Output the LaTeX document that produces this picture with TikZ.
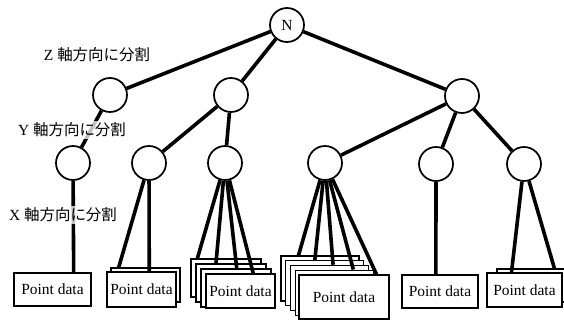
\documentclass[tikz,border=0pt]{standalone}
\usepackage{fontspec}
\setmainfont{Liberation Serif}
\newfontfamily\jpfont{Noto Sans CJK JP}
\usepackage{tikz}
\usetikzlibrary{calc}

\tikzset{
  kdnode/.style={circle,draw,fill=white,line width=1.3pt,minimum size=25.5pt,inner sep=0pt,font=\fontsize{11.6}{13}\selectfont},
  kdedge/.style={line width=2.7pt},
  databox/.style={draw,fill=white,line width=1.1pt,inner sep=0pt,font=\fontsize{11.6}{13}\selectfont},
  axislabel/.style={fill=white,fill opacity=0.75,text opacity=1,inner sep=1pt,font=\fontsize{11.6}{13}\selectfont}
}

\begin{document}
\begin{tikzpicture}[x=0.75pt,y=0.75pt,yscale=-1,xscale=1]
\useasboundingbox (0,0) rectangle (564,320);

%Shape: Rectangle (leaf boxes)
\node [databox,minimum width=57.75pt,minimum height=24.75pt] (b1) at (52.5,289.5) {Point data};
%
\node [databox,minimum width=51.75pt,minimum height=25.5pt] (b2a) at (145.5,285) {};
\node [databox,minimum width=51.75pt,minimum height=26.25pt] (b2b) at (141.5,289.5) {Point data};
%
\node [databox,minimum width=52.5pt,minimum height=28.5pt] (b3a) at (226,278) {};
\node [databox,minimum width=52.5pt,minimum height=28.5pt] (b3b) at (231,283) {};
\node [databox,minimum width=52.5pt,minimum height=28.5pt] (b3c) at (236,288) {};
\node [databox,minimum width=51.75pt,minimum height=25.5pt] (b3d) at (240.5,291) {Point data};
%
\node [databox,minimum width=58.5pt,minimum height=33.75pt] (b4a) at (320,278.5) {};
\node [databox,minimum width=58.5pt,minimum height=33.75pt] (b4b) at (324.75,283.25) {};
\node [databox,minimum width=58.5pt,minimum height=33.75pt] (b4c) at (329.5,288) {};
\node [databox,minimum width=58.5pt,minimum height=33.75pt] (b4d) at (334.25,292.75) {};
\node [databox,minimum width=67.5pt,minimum height=33pt] (b4e) at (344,297) {Point data};
%
\node [databox,minimum width=57pt,minimum height=24.75pt] (b5) at (440,291.5) {Point data};
%
\node [databox,minimum width=56.25pt,minimum height=24.75pt] (b6a) at (534.5,285.5) {};
\node [databox,minimum width=56.25pt,minimum height=25.5pt] (b6b) at (524.5,290) {Point data};

%Shape: Circle (tree nodes)
\node [kdnode] (root) at (287,25) {N};
\node [kdnode] (z1) at (110,95) {};
\node [kdnode] (z2) at (231,95) {};
\node [kdnode] (z3) at (462,96) {};
\node [kdnode] (y1) at (73,163) {};
\node [kdnode] (y2) at (149,163) {};
\node [kdnode] (y3) at (225,163) {};
\node [kdnode] (y4) at (325,163) {};
\node [kdnode] (y5) at (436,164) {};
\node [kdnode] (y6) at (524,164) {};

%Straight Lines
\draw [kdedge] (root) -- (z1) ;
\draw [kdedge] (root) -- (z2) ;
\draw [kdedge] (root) -- (z3) ;
\draw [kdedge] (z1) -- (y1) ;
\draw [kdedge] (z2) -- (y2) ;
\draw [kdedge] (z2) -- (y3) ;
\draw [kdedge] (z3) -- (y4) ;
\draw [kdedge] (z3) -- (y5) ;
\draw [kdedge] (z3) -- (y6) ;
%Straight Lines (to leaves)
\draw [kdedge] (y1) -- ($(b1.north west)!0.77!(b1.north east)$) ;
\draw [kdedge] (y2) -- ($(b2a.north west)!0.12!(b2a.north east)$) ;
\draw [kdedge] (y2) -- ($(b2b.north west)!0.61!(b2b.north east)$) ;
\draw [kdedge] (y3) -- ($(b3a.north west)!0.1!(b3a.north east)$) ;
\draw [kdedge] (y3) -- ($(b3b.north west)!0.29!(b3b.north east)$) ;
\draw [kdedge] (y3) -- ($(b3c.north west)!0.51!(b3c.north east)$) ;
\draw [kdedge] (y3) -- ($(b3d.north west)!0.68!(b3d.north east)$) ;
\draw [kdedge] (y4) -- ($(b4a.north west)!0.23!(b4a.north east)$) ;
\draw [kdedge] (y4) -- ($(b4b.north west)!0.375!(b4b.north east)$) ;
\draw [kdedge] (y4) -- ($(b4c.north west)!0.545!(b4c.north east)$) ;
\draw [kdedge] (y4) -- ($(b4d.north west)!0.74!(b4d.north east)$) ;
\draw [kdedge] (y4) -- ($(b4e.north west)!0.855!(b4e.north east)$) ;
\draw [kdedge] (y5) -- ($(b5.north west)!0.447!(b5.north east)$) ;
\draw [kdedge] (y6) -- ($(b6b.north west)!0.33!(b6b.north east)$) ;
\draw [kdedge] (y6) -- ($(b6a.north west)!0.76!(b6a.north east)$) ;

%Text labels
\node [axislabel] (lz) at (97,55) {Z {\jpfont 軸方向に分割}};
\node [axislabel] (ly) at (72,130) {Y {\jpfont 軸方向に分割}};
\node [axislabel] (lx) at (63,215) {X {\jpfont 軸方向に分割}};
\end{tikzpicture}
\end{document}
